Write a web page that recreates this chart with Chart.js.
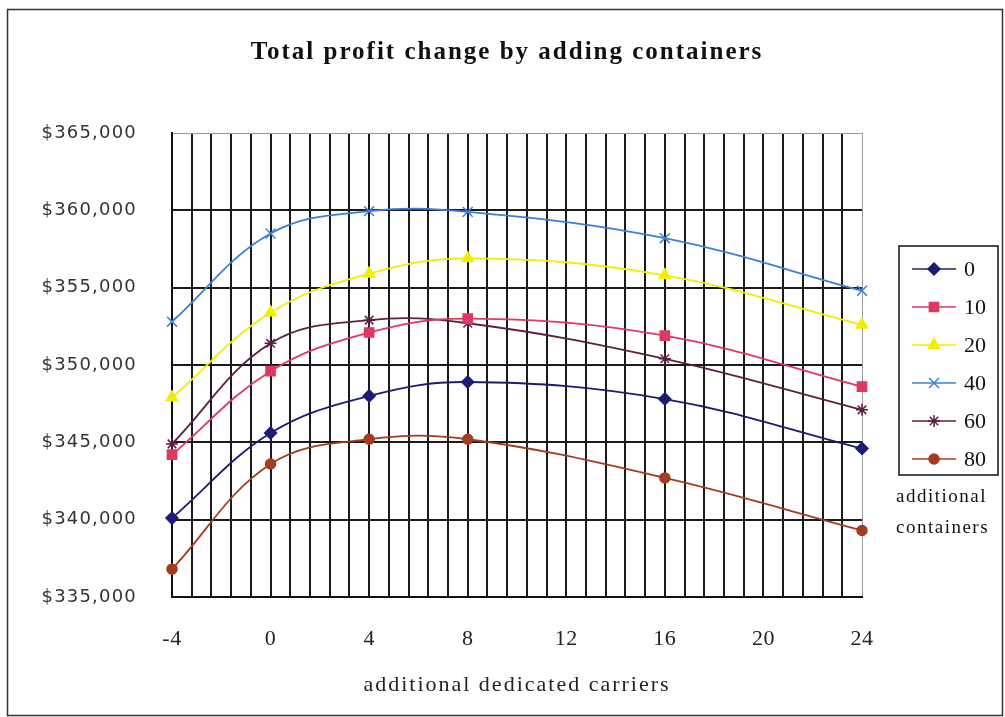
<!DOCTYPE html>
<html>
<head>
<meta charset="utf-8">
<script src="https://cdn.jsdelivr.net/npm/chart.js@4.4.1/dist/chart.umd.min.js"></script>
<style>
  html, body { margin: 0; padding: 0; background: #ffffff; }
  canvas { display: block; }
</style>
</head>
<body>
<canvas id="c" width="1005" height="717"></canvas>
<script>
// ---- Data ----
const chartTitle = 'Total profit change by adding containers';
const xAxisTitle = 'additional dedicated carriers';
const legendTitle = ['additional', 'containers'];
const carriers = [-4, 0, 4, 8, 16, 24];
const seriesLabels = ['0', '10', '20', '40', '60', '80'];
const profit0  = [340100, 345600, 348000, 348900, 347800, 344600];
const profit10 = [344200, 349600, 352100, 353000, 351900, 348600];
const profit20 = [347900, 353400, 355900, 356900, 355800, 352600];
const profit40 = [352800, 358500, 359950, 359900, 358200, 354800];
const profit60 = [344900, 351400, 352900, 352700, 350400, 347100];
const profit80 = [336800, 343600, 345200, 345200, 342700, 339300];
const xTickValues = [-4, 0, 4, 8, 12, 16, 20, 24];
const xGridStep = 0.8;
const yMin = 335000, yMax = 365000, yStep = 5000;

// ---- Styles ----
const seriesValues = [profit0, profit10, profit20, profit40, profit60, profit80];
const seriesColors = ['#1c1c74', '#e0385f', '#f2ee00', '#3b7fd9', '#5e1f45', '#a33c22'];
const seriesPoints = ['rectRot', 'rect', 'triangle', 'crossRot', 'star', 'circle'];
const seriesRadius = [6, 6.5, 6.5, 7, 6, 5];

const datasets = seriesLabels.map((lab, i) => ({
  label: lab,
  data: carriers.map((x, j) => ({ x: x, y: seriesValues[i][j] })),
  borderColor: seriesColors[i],
  backgroundColor: seriesColors[i],
  pointBackgroundColor: seriesColors[i],
  pointBorderColor: seriesColors[i],
  pointStyle: seriesPoints[i],
  pointRadius: seriesRadius[i],
  pointBorderWidth: 1.5,
  borderWidth: 1.8,
  tension: 0.38,
  clip: false
}));

function drawMarker(ctx, style, r, x, y) {
  if (Chart.helpers && Chart.helpers.drawPoint) {
    Chart.helpers.drawPoint(ctx, { pointStyle: style, radius: r, rotation: 0, borderWidth: 1.5 }, x, y);
    return;
  }
  ctx.beginPath(); ctx.arc(x, y, r, 0, Math.PI * 2); ctx.fill(); ctx.stroke();
}

const scaleSpacing = { x: { labels: '0.5px', title: '2px' }, y: { labels: '1.2px', title: '0px' } };

function patchScales(chart) {
  Object.keys(chart.scales).forEach((id) => {
    const s = chart.scales[id];
    if (s.__patched) return;
    s.__patched = true;
    const sp = scaleSpacing[id] || { labels: '0px', title: '0px' };
    const origLabels = s.drawLabels;
    const origTitle = s.drawTitle;
    s.drawLabels = function (a) {
      this.ctx.save(); this.ctx.letterSpacing = sp.labels; origLabels.call(this, a); this.ctx.restore();
    };
    s.drawTitle = function (a) {
      this.ctx.save(); this.ctx.letterSpacing = sp.title; origTitle.call(this, a); this.ctx.restore();
    };
  });
}

const decor = {
  id: 'decor',
  afterLayout(chart) { patchScales(chart); },
  beforeDraw(chart) {
    const ctx = chart.ctx;
    ctx.save();
    ctx.fillStyle = '#ffffff';
    ctx.fillRect(0, 0, chart.width, chart.height);
    ctx.restore();
    patchScales(chart);
  },
  afterDraw(chart) {
    const ctx = chart.ctx;
    ctx.save();
    // outer border
    ctx.strokeStyle = '#333333';
    ctx.lineWidth = 1.5;
    ctx.strokeRect(7.5, 9.5, 995, 706);
    // title
    ctx.letterSpacing = '2px';
    ctx.fillStyle = '#111111';
    ctx.font = 'bold 25px "Liberation Serif"';
    ctx.textAlign = 'center';
    ctx.textBaseline = 'middle';
    ctx.fillText(chartTitle, 507, 53);
    // legend box
    ctx.letterSpacing = '0px';
    ctx.strokeStyle = '#111111';
    ctx.lineWidth = 1.5;
    ctx.strokeRect(899, 246, 99, 229);
    chart.data.datasets.forEach((ds, i) => {
      const y = 269 + i * 38;
      ctx.strokeStyle = ds.borderColor;
      ctx.fillStyle = ds.backgroundColor;
      ctx.lineWidth = 1.5;
      ctx.beginPath(); ctx.moveTo(912, y); ctx.lineTo(956, y); ctx.stroke();
      drawMarker(ctx, ds.pointStyle, ds.pointRadius, 934, y);
      ctx.fillStyle = '#111111';
      ctx.font = '22px "Liberation Serif"';
      ctx.textAlign = 'left';
      ctx.textBaseline = 'middle';
      ctx.fillText(ds.label, 964, y + 1);
    });
    // legend title
    ctx.letterSpacing = '1.5px';
    ctx.font = '19px "Liberation Serif"';
    ctx.fillStyle = '#111111';
    ctx.fillText(legendTitle[0], 896, 497);
    ctx.fillText(legendTitle[1], 896, 528);
    ctx.restore();
  }
};

new Chart(document.getElementById('c'), {
  type: 'line',
  data: { datasets: datasets },
  plugins: [decor],
  options: {
    responsive: false,
    animation: false,
    layout: { padding: { left: 0, right: 143, top: 133, bottom: 0 } },
    plugins: { legend: { display: false }, title: { display: false }, tooltip: { enabled: false } },
    scales: {
      x: {
        type: 'linear',
        min: xTickValues[0],
        max: xTickValues[xTickValues.length - 1],
        afterBuildTicks(scale) {
          const n = Math.round((scale.max - scale.min) / xGridStep);
          const t = [];
          for (let k = 0; k <= n; k++) t.push({ value: Math.round((scale.min + k * xGridStep) * 1000) / 1000 });
          scale.ticks = t;
        },
        afterFit(scale) { scale.height = 120; },
        grid: {
          color: (c) => (c.tick && c.tick.value === xTickValues[xTickValues.length - 1]) ? '#9a9a9a' : '#1a1a1a',
          lineWidth: (c) => (c.tick && c.tick.value === xTickValues[xTickValues.length - 1]) ? 1 : 2,
          drawTicks: false
        },
        border: { color: '#111111', width: 2 },
        ticks: {
          autoSkip: false,
          maxRotation: 0,
          padding: 29,
          color: '#222222',
          font: { family: 'Liberation Serif', size: 22 },
          callback: (v) => xTickValues.includes(Math.round(v * 1000) / 1000) ? String(Math.round(v)) : ''
        },
        title: {
          display: true,
          text: xAxisTitle,
          color: '#222222',
          font: { family: 'Liberation Serif', size: 22 },
          padding: { top: 0, bottom: 19 }
        }
      },
      y: {
        min: yMin,
        max: yMax,
        afterFit(scale) { scale.width = 172; },
        grid: {
          color: (c) => (c.tick && c.tick.value === yMax) ? '#9a9a9a' : '#1a1a1a',
          lineWidth: (c) => (c.tick && c.tick.value === yMax) ? 1 : 2,
          drawTicks: false
        },
        border: { color: '#111111', width: 2 },
        ticks: {
          stepSize: yStep,
          padding: 35,
          color: '#333333',
          font: { family: 'DejaVu Sans', size: 18 },
          callback: (v) => '$' + Number(v).toLocaleString('en-US')
        }
      }
    }
  }
});
</script>
</body>
</html>
